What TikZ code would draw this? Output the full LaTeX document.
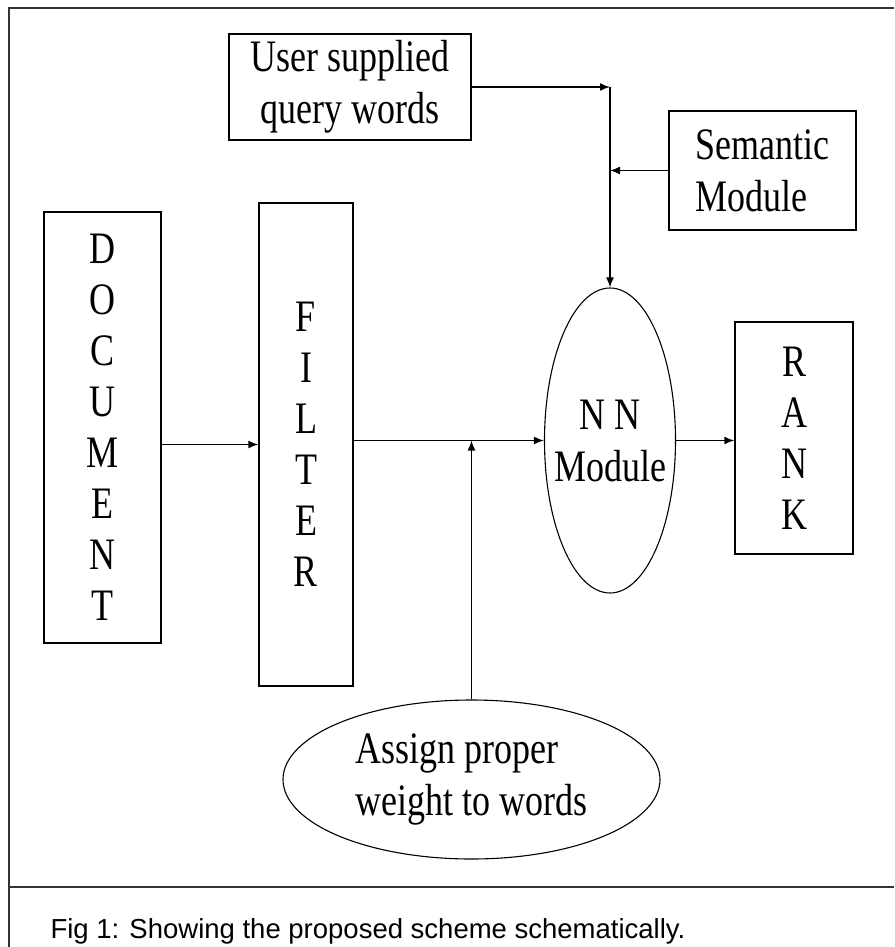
\documentclass[tikz,border=0pt]{standalone}
\usepackage{fontspec}
\setmainfont[FakeStretch=0.8]{Liberation Serif}
\newfontfamily\capfont{Liberation Sans}
\usetikzlibrary{positioning,shapes.geometric,arrows.meta}

\begin{document}
\begin{tikzpicture}[x=1pt,y=-1pt,
  every node/.style={font=\fontsize{45}{52}\selectfont},
  box/.style={draw,line width=1.4pt,inner sep=0pt,align=center},
  letters/.style={box,font=\fontsize{45}{51}\selectfont},
  oval/.style={draw,ellipse,line width=1.1pt,inner sep=0pt},
  arrow/.style={-{Latex[length=10pt,width=8pt]},line width=1.5pt},
  frame/.style={line width=1.6pt,draw=black!80}
]
  \useasboundingbox (0,0) rectangle (894,947);
  \draw[frame] (894,8) -- (9,8) -- (9,947);
  \draw[frame] (9,887) -- (894,887);

  \node[box,minimum width=242pt,minimum height=106pt] (user) at (350,87) {User supplied\\query words};
  \node[box,align=left,minimum width=187pt,minimum height=119pt] (sem) at (762.5,170.5) {Semantic\\Module};
  \node[letters,minimum width=117pt,minimum height=431pt] (doc) at (102.5,427.5) {D\\O\\C\\U\\M\\E\\N\\T};
  \node[letters,minimum width=94pt,minimum height=483pt] (filter) at (306,444.5) {F\\I\\L\\T\\E\\R};
  \node[oval,minimum width=131pt,minimum height=305pt] (nn) at (610,440.5) {};
  \node[align=center] (nntext) at (nn.center) {N N\\Module};
  \node[letters,minimum width=118pt,minimum height=232pt] (rank) at (794,438) {R\\A\\N\\K};
  \node[oval,minimum width=377pt,minimum height=159pt] (assign) at (471.5,779.5) {};
  \node[align=left] (assigntext) at (assign.center) {Assign proper\\weight to words};

  \coordinate (qtop) at (nn.north |- user.east);
  \coordinate (qmid) at (nn.north |- sem.west);
  \draw[arrow] (user.east) -- (qtop);
  \draw[arrow] (qtop) -- (nn.north);
  \draw[arrow] (sem.west) -- (qmid);
  \draw[arrow] (doc.east |- filter.west) -- (filter.west);
  \draw[arrow] (filter.east |- nn.west) -- (nn.west);
  \draw[arrow] (assign.north) -- (assign.north |- nn.west);
  \draw[arrow] (nn.east) -- (rank.west |- nn.east);

  \node[font=\capfont\fontsize{27.5}{31}\selectfont,anchor=base west] (caption) at (47,938) {Fig 1: Showing the proposed scheme schematically.};
\end{tikzpicture}
\end{document}
